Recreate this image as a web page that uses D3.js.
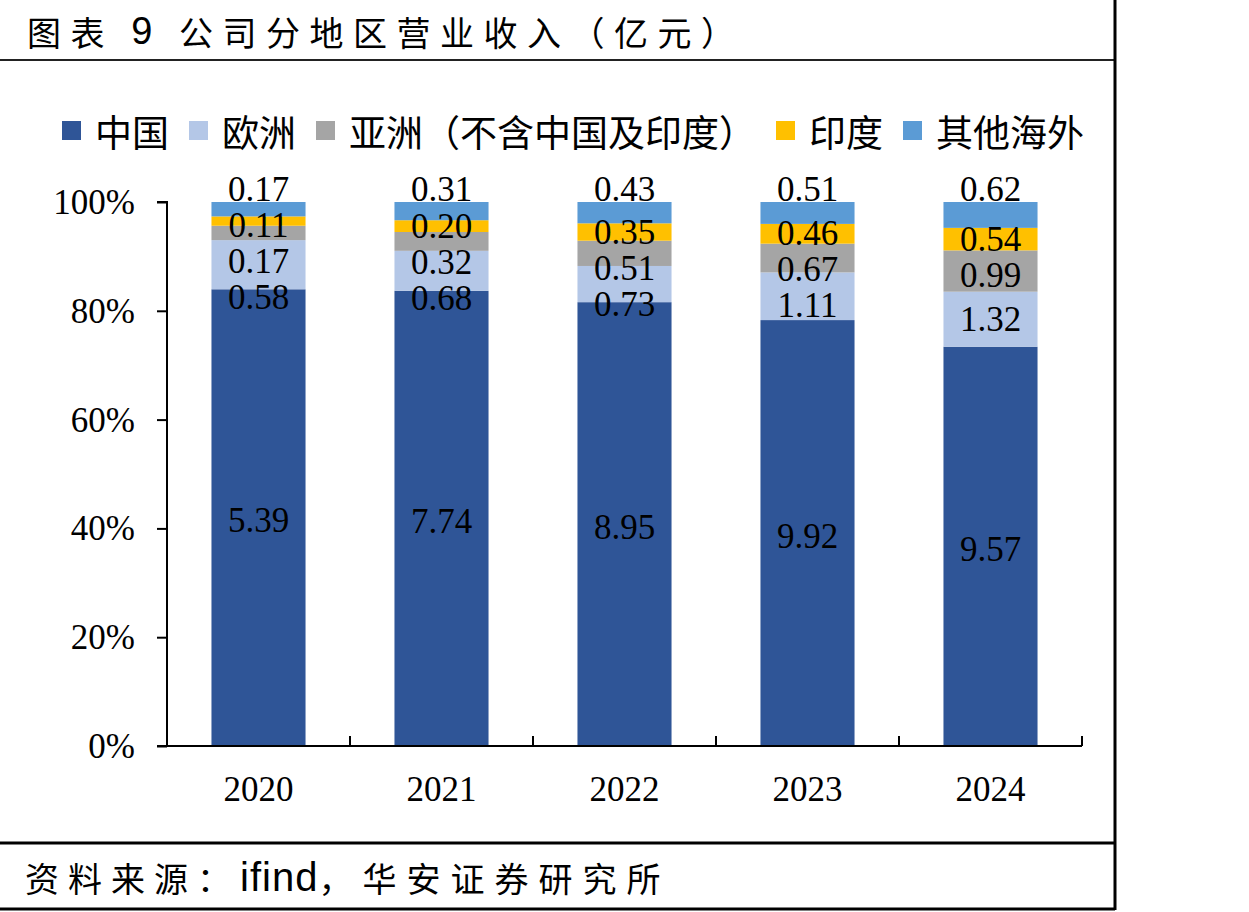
<!DOCTYPE html>
<html>
<head>
<meta charset="utf-8">
<script src="https://cdn.jsdelivr.net/npm/d3@7"></script>
<style>
  html, body { margin: 0; padding: 0; background: #fff; }
  svg { display: block; }
</style>
</head>
<body>
<svg id="chart" width="1249" height="912"></svg>
<script>
// ---------- data ----------
const years = ["2020", "2021", "2022", "2023", "2024"];
const seriesNames = ["中国", "欧洲", "亚洲（不含中国及印度）", "印度", "其他海外"];
const china  = [5.39, 7.74, 8.95, 9.92, 9.57];
const europe = [0.58, 0.68, 0.73, 1.11, 1.32];
const asia   = [0.17, 0.32, 0.51, 0.67, 0.99];
const india  = [0.11, 0.20, 0.35, 0.46, 0.54];
const other  = [0.17, 0.31, 0.43, 0.51, 0.62];
const yTickValues = [0, 0.2, 0.4, 0.6, 0.8, 1.0];
const titleParts = ["图表 ", "9", " 公司分地区营业收入（亿元）"];
const sourceText = ["资料来源：", "ifind", "，华安证券研究所"];

// ---------- styles ----------
const colors = ["#2F5597", "#B4C7E7", "#A5A5A5", "#FFC000", "#5B9BD5"];
const serif = "'Liberation Serif', 'Times New Roman', serif";
const cjk = "'Noto Sans CJK SC', sans-serif";

const svg = d3.select("#chart");

// frame lines
svg.append("line").attr("x1", 0).attr("x2", 1115).attr("y1", 60).attr("y2", 60)
  .attr("stroke", "#222").attr("stroke-width", 2);
svg.append("line").attr("x1", 1115).attr("x2", 1115).attr("y1", 0).attr("y2", 910)
  .attr("stroke", "#000").attr("stroke-width", 3);
svg.append("line").attr("x1", 0).attr("x2", 1115).attr("y1", 843).attr("y2", 843)
  .attr("stroke", "#000").attr("stroke-width", 3);
svg.append("line").attr("x1", 0).attr("x2", 1115).attr("y1", 909).attr("y2", 909)
  .attr("stroke", "#000").attr("stroke-width", 3);

// title
const title = svg.append("text").attr("x", 27).attr("y", 31)
  .attr("dominant-baseline", "central")
  .attr("font-family", cjk).attr("font-size", 34).attr("letter-spacing", 9.5)
  .attr("fill", "#000");
title.append("tspan").text(titleParts[0]);
title.append("tspan").attr("font-family", "'Liberation Sans', Arial, sans-serif").attr("font-size", 38).text(titleParts[1]);
title.append("tspan").text(titleParts[2]);

// source
const src = svg.append("text").attr("x", 25).attr("y", 877)
  .attr("dominant-baseline", "central").attr("font-size", 34).attr("fill", "#000");
src.append("tspan").attr("font-family", cjk).attr("letter-spacing", 9).text(sourceText[0]);
src.append("tspan").attr("font-family", "'Liberation Sans', Arial, sans-serif").attr("font-size", 40)
  .attr("letter-spacing", 1).text(sourceText[1]);
src.append("tspan").attr("font-family", cjk).attr("letter-spacing", 10).text(sourceText[2]);

// ---------- scales ----------
const plotLeft = 167, plotRight = 1082, plotTop = 202, plotBottom = 746;
const x = d3.scaleBand().domain(years).range([plotLeft, plotRight]).paddingInner(0.486).paddingOuter(0.243);
const y = d3.scaleLinear().domain([0, 1]).range([plotBottom, plotTop]);

// stacked percentages
const rows = years.map((yr, i) => ({ year: yr, s0: china[i], s1: europe[i], s2: asia[i], s3: india[i], s4: other[i] }));
const keys = ["s0", "s1", "s2", "s3", "s4"];
const stack = d3.stack().keys(keys).offset(d3.stackOffsetExpand);
const stacked = stack(rows);

// bars
const g = svg.append("g");
stacked.forEach((layer, si) => {
  g.selectAll(null).data(layer).enter().append("rect")
    .attr("x", d => x(d.data.year))
    .attr("width", x.bandwidth())
    .attr("y", d => y(d[1]))
    .attr("height", d => y(d[0]) - y(d[1]))
    .attr("fill", colors[si]);
});

// y axis
const yAxis = d3.axisLeft(y).tickValues(yTickValues).tickFormat(d3.format(".0%"))
  .tickSize(10).tickPadding(22);
const yg = svg.append("g").attr("transform", `translate(${plotLeft},0)`).call(yAxis);
yg.select(".domain").attr("stroke", "#000").attr("stroke-width", 2).attr("d", `M-10,${plotTop}H0V${plotBottom}`);
yg.selectAll(".tick line").attr("stroke", "#000").attr("stroke-width", 2);
yg.selectAll(".tick text").attr("font-family", serif).attr("font-size", 35).attr("fill", "#000")
  .attr("dy", "0.33em");

// x axis
const xAxis = d3.axisBottom(x).tickSize(0).tickPadding(30);
const xg = svg.append("g").attr("transform", `translate(0,${plotBottom})`).call(xAxis);
xg.select(".domain").attr("stroke", "#000").attr("stroke-width", 2).attr("d", `M${plotLeft - 10},0H${plotRight}`);
xg.selectAll(".tick text").attr("font-family", serif).attr("font-size", 35).attr("fill", "#000")
  .attr("dy", "0.71em");
// category separator ticks (upward)
const step = x.step();
const sepXs = years.map((yr, i) => plotLeft + step * (i + 1));
xg.selectAll(".sep").data(sepXs).enter().append("line")
  .attr("x1", d => d).attr("x2", d => d).attr("y1", 0).attr("y2", -10)
  .attr("stroke", "#000").attr("stroke-width", 2);

// data labels
const values = [china, europe, asia, india, other];
const labelG = svg.append("g").attr("font-family", serif).attr("font-size", 35).attr("fill", "#000")
  .attr("text-anchor", "middle");
years.forEach((yr, i) => {
  const cx = x(yr) + x.bandwidth() / 2;
  const centers = stacked.map(layer => (y(layer[i][0]) + y(layer[i][1])) / 2);
  const pos = [];
  pos[0] = centers[0] + 3;
  pos[4] = y(1) - 13;
  for (let s = 3; s >= 1; s--) pos[s] = Math.max(centers[s], pos[s + 1] + 36);
  for (let s = 0; s < 5; s++) {
    labelG.append("text").attr("x", cx).attr("y", pos[s]).attr("dy", "0.33em")
      .text(values[s][i].toFixed(2));
  }
});

// legend
const legend = svg.append("g");
let cursor = 62;
const legY = 131;
seriesNames.forEach((name, i) => {
  legend.append("rect").attr("x", cursor).attr("y", legY - 10).attr("width", 19).attr("height", 19)
    .attr("fill", colors[i]);
  const t = legend.append("text").attr("x", cursor + 33).attr("y", legY)
    .attr("dominant-baseline", "central")
    .attr("font-family", cjk).attr("font-size", 37).attr("fill", "#000").text(name);
  const w = t.node().getComputedTextLength();
  cursor = cursor + 33 + w + 20;
});
</script>
</body>
</html>
